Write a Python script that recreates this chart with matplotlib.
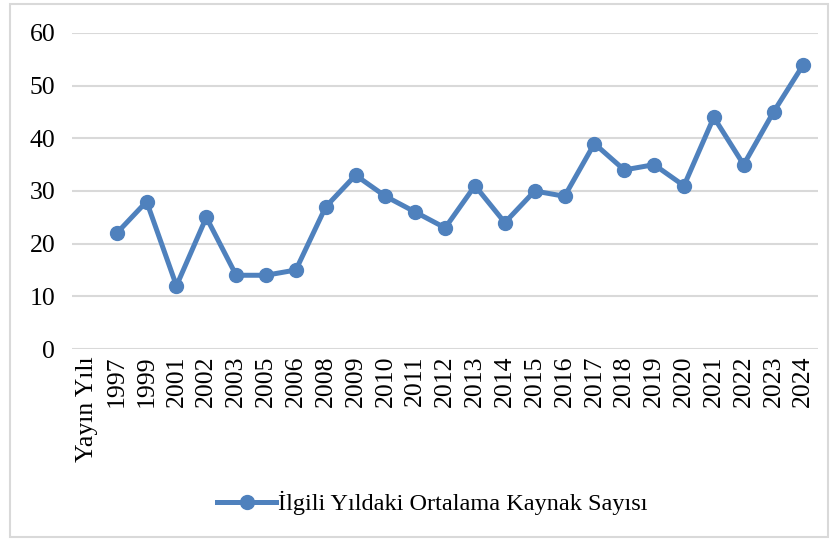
import matplotlib.pyplot as plt
from matplotlib.patches import Rectangle

plt.rcParams['font.family'] = ['Liberation Serif', 'DejaVu Serif']

categories = ["Yayın Yılı", "1997", "1999", "2001", "2002", "2003", "2005", "2006",
              "2008", "2009", "2010", "2011", "2012", "2013", "2014", "2015",
              "2016", "2017", "2018", "2019", "2020", "2021", "2022", "2023", "2024"]
values = [None, 22, 28, 12, 25, 14, 14, 15, 27, 33, 29, 26, 23, 31, 24, 30,
          29, 39, 34, 35, 31, 44, 35, 45, 54]
series_name = "İlgili Yıldaki Ortalama Kaynak Sayısı"
yticks = [0, 10, 20, 30, 40, 50, 60]

blue = "#4F81BD"
grid = "#D9D9D9"

fig = plt.figure(figsize=(8.35, 5.4), dpi=100)
ax = fig.add_axes([0.0862, 0.3537, 0.8938, 0.5852])

# outer chart border
fig.patches.append(Rectangle((0.012, 0.006), 0.98, 0.986, transform=fig.transFigure,
                             fill=False, edgecolor=grid, linewidth=1.5))

x = list(range(len(categories)))
px = [i for i, v in zip(x, values) if v is not None]
py = [v for v in values if v is not None]
line, = ax.plot(px, py, color=blue, linewidth=3.6, marker='o', markersize=10,
                label=series_name, zorder=3)

ax.set_xlim(-0.5, len(categories) - 0.5)
ax.set_ylim(0, 60)
ax.set_yticks(yticks)
ax.set_xticks(x)
ax.set_xticklabels(categories, rotation=90, fontsize=18.5)
ax.tick_params(axis='y', labelsize=18.5, length=0, pad=12)
ax.tick_params(axis='x', length=0, pad=5)
ax.yaxis.grid(True, color=grid, linewidth=1.5)
ax.set_axisbelow(True)
for s in ax.spines.values():
    s.set_visible(False)

fig.legend(handles=[line], loc='center', bbox_to_anchor=(0.518, 0.068), frameon=False,
           fontsize=17.5, handlelength=2.4, handletextpad=0.1)

fig.savefig("out.png", dpi=100)
